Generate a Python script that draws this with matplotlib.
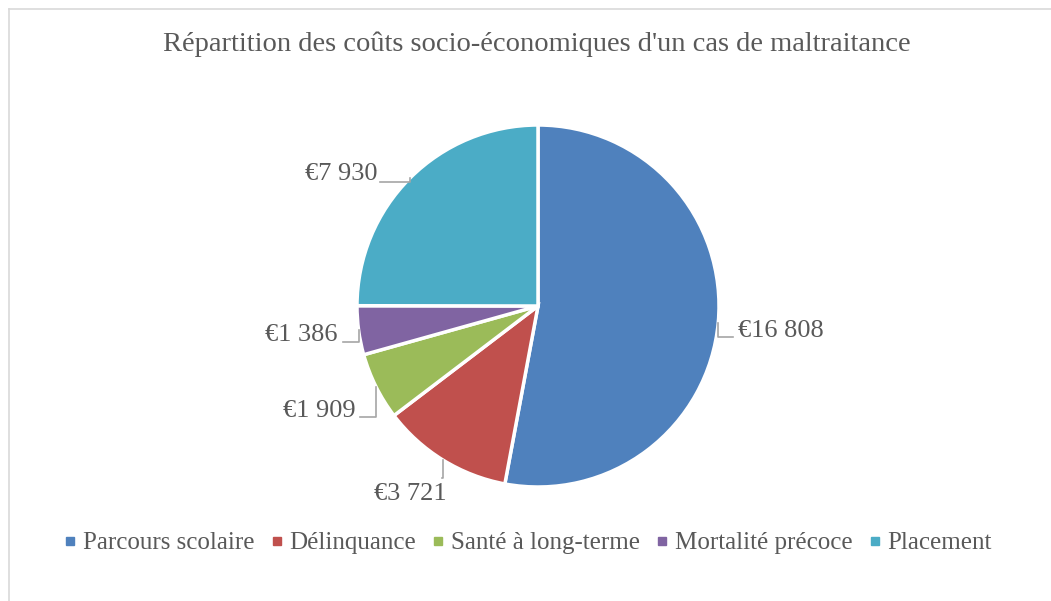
import matplotlib.pyplot as plt
import numpy as np
from matplotlib.lines import Line2D

plt.rcParams['font.family'] = ['Liberation Serif', 'DejaVu Serif']

# data
categories = ['Parcours scolaire', 'Délinquance', 'Santé à long-terme',
              'Mortalité précoce', 'Placement']
costs = [16808, 3721, 1909, 1386, 7930]
value_labels = ['€16 808', '€3 721', '€1 909', '€1 386', '€7 930']

colors = ['#4F81BD', '#C0504D', '#9BBB59', '#8064A2', '#4BACC6']
text_color = '#595959'
line_color = '#a6a6a6'

# label layout (pie radius units): text position, leader end, alignment
label_pos = [(1.105, -0.14), (-0.707, -1.04), (-1.01, -0.58),
             (-1.109, -0.16), (-0.885, 0.73)]
leader_end = [(1.077, -0.171), (-0.530, -0.950), (-0.983, -0.613),
              (-1.077, -0.199), (-0.873, 0.685)]
label_ha = ['left', 'center', 'right', 'right', 'right']

W, H = 1051, 601
fig = plt.figure(figsize=(W / 100, H / 100), dpi=100)

# chart frame
fig.add_artist(Line2D([9 / W, 1], [1 - 9 / H, 1 - 9 / H], color='#d9d9d9', lw=1.2))
fig.add_artist(Line2D([9 / W, 9 / W], [0, 1 - 9 / H], color='#d9d9d9', lw=1.2))

cx, cy, R = 538, 306, 181
ax = fig.add_axes([(cx - R) / W, (H - cy - R) / H, 2 * R / W, 2 * R / H])
wedges, _ = ax.pie(costs, colors=colors, startangle=90, counterclock=False,
                   radius=1, wedgeprops=dict(edgecolor='white', linewidth=2.5))
ax.set_xlim(-1, 1)
ax.set_ylim(-1, 1)
ax.set_aspect('equal')
ax.axis('off')

for w, txt, pos, end, ha in zip(wedges, value_labels, label_pos, leader_end, label_ha):
    mid = np.deg2rad((w.theta1 + w.theta2) / 2)
    ex, ey = np.cos(mid), np.sin(mid)
    ax.plot([ex, ex, end[0]], [ey, end[1], end[1]], color=line_color,
            lw=1.2, clip_on=False)
    ax.text(pos[0], pos[1], txt, ha=ha, va='center', fontsize=19,
            color=text_color, clip_on=False)

fig.text(537 / W, 1 - 44 / H,
         "Répartition des coûts socio-économiques d'un cas de maltraitance",
         ha='center', va='center', fontsize=20.5, color=text_color)

handles = [Line2D([], [], marker='s', linestyle='none', markersize=6,
                  markerfacecolor=c, markeredgecolor=c) for c in colors]
fig.legend(handles, categories, loc='center', bbox_to_anchor=(526 / W, 1 - 543 / H),
           ncol=5, frameon=False, fontsize=18, labelcolor=text_color,
           handletextpad=0.1, columnspacing=0.5, handlelength=0.8)

fig.savefig('out.png', dpi=100)
